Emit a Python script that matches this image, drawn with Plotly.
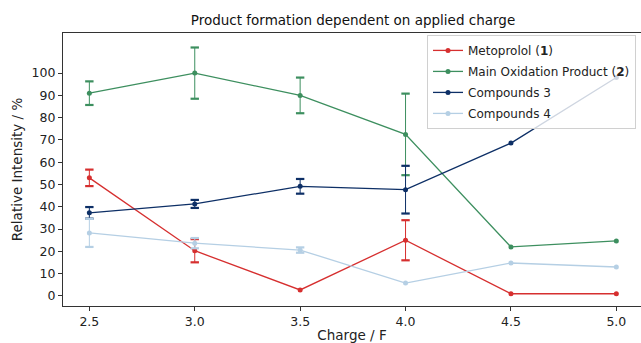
import plotly.graph_objects as go

charge = [2.5, 3.0, 3.5, 4.0, 4.5, 5.0]
x_ticks = [2.5, 3.0, 3.5, 4.0, 4.5, 5.0]
x_tick_labels = ["2.5", "3.0", "3.5", "4.0", "4.5", "5.0"]
y_ticks = [0, 10, 20, 30, 40, 50, 60, 70, 80, 90, 100]

names = ["Metoprolol (<b>1</b>)", "Main Oxidation Product (<b>2</b>)", "Compounds 3", "Compounds 4"]
metoprolol = [53, 20.3, 2.7, 25, 1, 1]
metoprolol_err = [3.7, 5.2, 0, 9, 0, 0]
main_product = [91, 100, 90, 72.5, 22, 24.7]
main_product_err = [5.3, 11.5, 8, 18.3, 0, 0]
compounds3 = [37.3, 41.3, 49.2, 47.7, 68.6, 98]
compounds3_err = [2.6, 1.8, 3.3, 10.7, 0, 0]
compounds4 = [28.3, 23.7, 20.6, 5.8, 14.8, 13]
compounds4_err = [6.3, 2.3, 1.2, 0, 0, 0]

colors = ["#d62f2f", "#3d8f5f", "#0d2f66", "#b5cfe4"]
values = [metoprolol, main_product, compounds3, compounds4]
errors = [metoprolol_err, main_product_err, compounds3_err, compounds4_err]

fig = go.Figure()
for i, (name, vals, errs, col) in enumerate(zip(names, values, errors, colors)):
    fig.add_trace(go.Scatter(
        x=charge, y=vals, name=name, mode="lines+markers", legendgroup=f"g{i}",
        line=dict(color=col, width=1.3),
        marker=dict(color=col, size=5),
        error_y=dict(type="data", array=errs, visible=True, color=col,
                     thickness=1.0, width=0),
    ))
    # error bar caps
    cx, cy = [], []
    for xv, yv, ev in zip(charge, vals, errs):
        if ev > 0:
            cx += [xv, xv]
            cy += [yv + ev, yv - ev]
    fig.add_trace(go.Scatter(
        x=cx, y=cy, mode="markers", showlegend=False, legendgroup=f"g{i}", hoverinfo="skip",
        marker=dict(symbol="line-ew", size=6, line=dict(color=col, width=2.2)),
    ))

font = "DejaVu Sans, Verdana, sans-serif"
fig.update_layout(
    width=641, height=343,
    margin=dict(l=63, r=0, t=33, b=37, autoexpand=False),
    paper_bgcolor="white", plot_bgcolor="white",
    font=dict(family=font, size=12, color="#222"),
    title=dict(text="Product formation dependent on applied charge",
               x=353 / 641, xanchor="center", y=1 - 20 / 343, yanchor="middle",
               font=dict(size=13.5, color="#111")),
    legend=dict(x=(427 - 63) / 578, xanchor="left", y=0.993, yanchor="top",
                bgcolor="rgba(255,255,255,0.8)", bordercolor="#d0d0d0", borderwidth=1,
                font=dict(size=12, color="#222"), tracegroupgap=2,
                itemwidth=30),
    showlegend=True,
)
fig.update_xaxes(
    range=[2.375, 5.117], tickvals=x_ticks, ticktext=x_tick_labels, automargin=False,
    showgrid=False, zeroline=False, showline=True, linecolor="#333", linewidth=1.2,
    mirror=True, ticks="outside", ticklen=4, tickcolor="#333",
    tickfont=dict(size=12.5), title=dict(text="Charge / F", font=dict(size=13.5), standoff=6),
)
fig.update_yaxes(
    range=[-4.5, 118], tickvals=y_ticks, automargin=False,
    showgrid=False, zeroline=False, showline=True, linecolor="#333", linewidth=1.2,
    ticks="outside", ticklen=4, tickcolor="#333",
    tickfont=dict(size=12.5), title=dict(text="Relative Intensity / %", font=dict(size=13.5), standoff=5),
)

fig.write_html("out.html", config={"displayModeBar": False},
               post_script="document.body.style.margin='0';document.body.style.overflow='hidden';")
